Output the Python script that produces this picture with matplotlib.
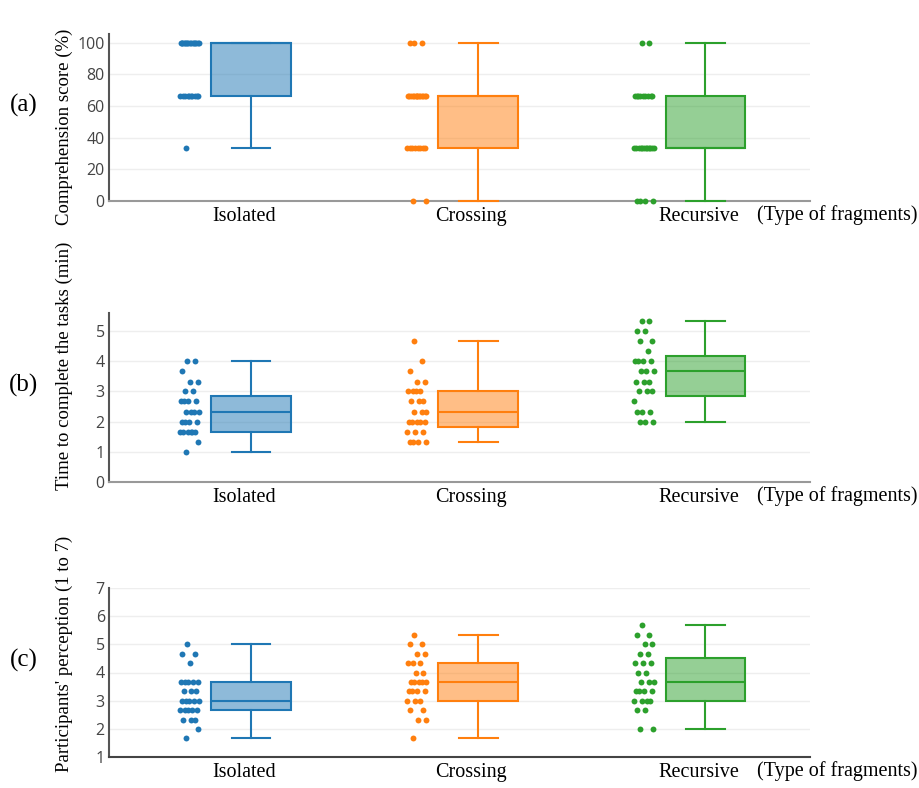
import matplotlib
matplotlib.use("Agg")
import matplotlib.pyplot as plt
import numpy as np

groups = ["Isolated", "Crossing", "Recursive"]
colors = ["#1f77b4", "#ff7f0e", "#2ca02c"]

# (a) comprehension score (%)
score_isolated = [33.33] * 1 + [66.67] * 10 + [100] * 16
score_crossing = [0] * 2 + [33.33] * 8 + [66.67] * 14 + [100] * 3
score_recursive = [0] * 4 + [33.33] * 12 + [66.67] * 9 + [100] * 2

# (b) time to complete the tasks (min)
time_isolated = [1.0, 1.33] + [1.67] * 6 + [2.0] * 4 + [2.33] * 4 + [2.67] * 4 \
    + [3.0] * 2 + [3.33] * 2 + [3.67] * 1 + [4.0] * 2
time_crossing = [1.33] * 4 + [1.67] * 3 + [2.0] * 5 + [2.33] * 3 + [2.67] * 3 \
    + [3.0] * 4 + [3.33] * 2 + [3.67, 4.0, 4.67]
time_recursive = [2.0] * 3 + [2.33] * 3 + [2.67] * 1 + [3.0] * 3 + [3.33] * 3 \
    + [3.67] * 3 + [4.0] * 4 + [4.33] * 1 + [4.67] * 2 + [5.0] * 2 + [5.33] * 2

# (c) participants' perception (1 to 7)
perc_isolated = [1.67, 2.0] + [2.33] * 3 + [2.67] * 5 + [3.0] * 5 + [3.33] * 3 \
    + [3.67] * 5 + [4.33] + [4.67] * 2 + [5.0]
perc_crossing = [1.67] + [2.33] * 2 + [2.67] * 2 + [3.0] * 3 + [3.33] * 4 + [3.67] * 5 \
    + [4.0] * 2 + [4.33] * 3 + [4.67] * 2 + [5.0] * 2 + [5.33]
perc_recursive = [2.0] * 2 + [2.67] * 2 + [3.0] * 4 + [3.33] * 4 + [3.67] * 3 \
    + [4.0] * 2 + [4.33] * 3 + [4.67] * 2 + [5.0] * 2 + [5.33] * 2 + [5.67]

panels = [
    ("(a)", "Comprehension score (%)", [score_isolated, score_crossing, score_recursive],
     (0, 105.6), [0, 20, 40, 60, 80, 100], 34, 201, 127),
    ("(b)", "Time to complete the tasks (min)", [time_isolated, time_crossing, time_recursive],
     (0, 5.6), [0, 1, 2, 3, 4, 5], 313, 482, 366),
    ("(c)", "Participants' perception (1 to 7)", [perc_isolated, perc_crossing, perc_recursive],
     (1, 7), [1, 2, 3, 4, 5, 6, 7], 588, 757, 654),
]

W, H = 920, 788
fig = plt.figure(figsize=(W / 100, H / 100), dpi=100)
serif = ["Liberation Serif", "DejaVu Serif"]

for k, (tag, ytitle, data, ylim, yticks, top, bottom, title_y) in enumerate(panels):
    ax = fig.add_axes([109 / W, 1 - bottom / H, 701 / W, (bottom - top) / H])
    ax.set_xlim(-0.595, 2.49)
    ax.set_ylim(*ylim)
    ax.set_yticks(yticks)
    ax.grid(axis="y", color="#eeeeee", linewidth=1)
    ax.set_axisbelow(True)
    for s in ["top", "right"]:
        ax.spines[s].set_visible(False)
    ax.spines["left"].set_color("#555555")
    ax.spines["left"].set_linewidth(1.5)
    ax.spines["bottom"].set_color("#444444" if k == 2 else "#999999")
    ax.spines["bottom"].set_linewidth(1.5)
    ax.tick_params(axis="y", length=0, pad=3, labelsize=11.5, labelcolor="#444444")
    for lab in ax.get_yticklabels():
        lab.set_family("Open Sans")
    ax.set_xticks(range(3))
    ax.set_xticklabels(groups, fontfamily=serif, fontsize=14.5)
    ax.tick_params(axis="x", length=0, pad=4)

    for i, vals in enumerate(data):
        c = colors[i]
        vals = np.array(vals)
        idx = np.arange(len(vals))
        jit = 0.045 * (2 * ((idx * 0.618034 + 0.31) % 1) - 1)
        ax.scatter(i - 0.24 + jit, vals, s=18, color=c, linewidths=0,
                   zorder=4, clip_on=False)
        bp = ax.boxplot([vals], positions=[i + 0.03], widths=0.35, patch_artist=True,
                        showfliers=False, whis=1.5, capwidths=0.17, manage_ticks=False)
        for b in bp["boxes"]:
            b.set_facecolor(matplotlib.colors.to_rgba(c, 0.5))
            b.set_edgecolor(c)
            b.set_linewidth(1.5)
        for part in ["whiskers", "caps", "medians"]:
            for ln in bp[part]:
                ln.set_color(c)
                ln.set_linewidth(1.5)
        for ln in bp["medians"] + bp["caps"] + bp["whiskers"] + bp["boxes"]:
            ln.set_zorder(3)
            ln.set_clip_on(False)

    xt_y = 1 - (bottom + 3.6) / H
    fig.text(918 / W, xt_y, "(Type of fragments)", ha="right", va="top",
             fontfamily=serif, fontsize=14.5)
    fig.text(64 / W, 1 - title_y / H, ytitle, rotation=90, ha="center", va="center",
             fontfamily=serif, fontsize=13.5)
    fig.text(24 / W, 1 - ((top + bottom) / 2 - 12) / H, tag, ha="center", va="center",
             fontfamily=serif, fontsize=18)

fig.savefig("out.png", dpi=100)
